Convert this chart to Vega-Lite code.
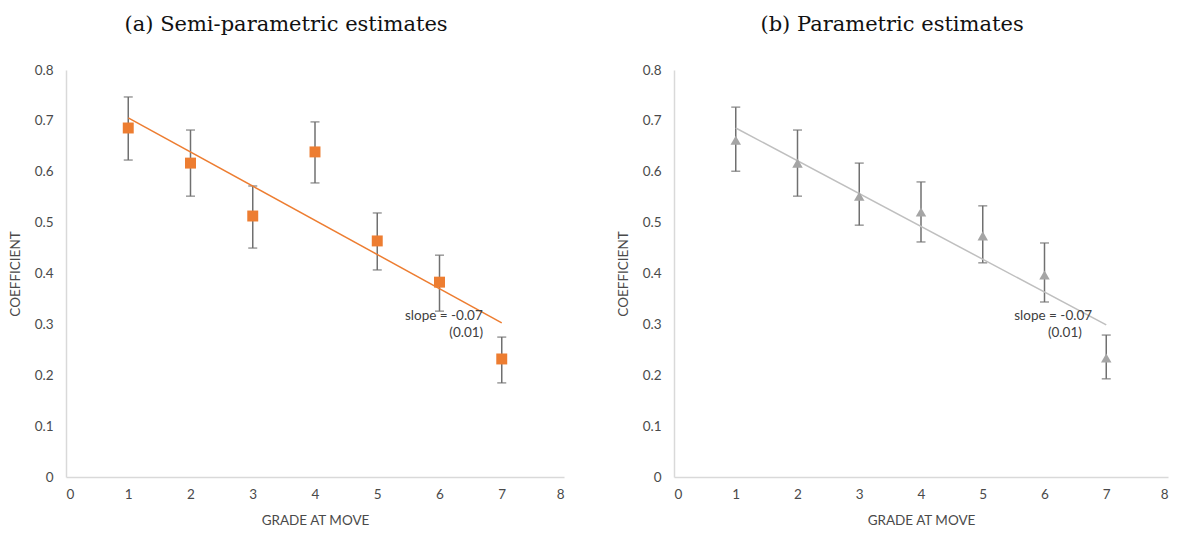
{
  "$schema": "https://vega.github.io/schema/vega-lite/v6.json",
  "background": "white",
  "padding": {"left": 8, "top": 14, "right": 6, "bottom": 6},
  "spacing": 52,
  "config": {
    "view": {"stroke": null},
    "axis": {
      "grid": false, "ticks": false, "domainColor": "#d9d9d9", "domainWidth": 1.5,
      "labelColor": "#4a4a4a", "labelFont": "Lato", "labelFontSize": 13.5,
      "titleColor": "#4a4a4a", "titleFont": "Lato", "titleFontSize": 13.5, "titleFontWeight": "normal"
    },
    "title": {"font": "DejaVu Serif", "fontSize": 21, "fontWeight": "normal", "color": "#111111", "anchor": "middle", "frame": "bounds", "offset": 28}
  },
  "datasets": {
    "semi": [
      {"grade": 1, "coef": 0.686, "lo": 0.623, "hi": 0.747},
      {"grade": 2, "coef": 0.617, "lo": 0.552, "hi": 0.682},
      {"grade": 3, "coef": 0.513, "lo": 0.450, "hi": 0.572},
      {"grade": 4, "coef": 0.639, "lo": 0.578, "hi": 0.698},
      {"grade": 5, "coef": 0.464, "lo": 0.407, "hi": 0.519},
      {"grade": 6, "coef": 0.383, "lo": 0.326, "hi": 0.436},
      {"grade": 7, "coef": 0.232, "lo": 0.185, "hi": 0.275}
    ],
    "para": [
      {"grade": 1, "coef": 0.662, "lo": 0.601, "hi": 0.727},
      {"grade": 2, "coef": 0.617, "lo": 0.552, "hi": 0.682},
      {"grade": 3, "coef": 0.552, "lo": 0.495, "hi": 0.617},
      {"grade": 4, "coef": 0.521, "lo": 0.462, "hi": 0.580},
      {"grade": 5, "coef": 0.474, "lo": 0.421, "hi": 0.533},
      {"grade": 6, "coef": 0.397, "lo": 0.344, "hi": 0.460},
      {"grade": 7, "coef": 0.234, "lo": 0.193, "hi": 0.279}
    ],
    "semiTrend": [{"grade": 1, "fit": 0.706}, {"grade": 7, "fit": 0.303}],
    "paraTrend": [{"grade": 1, "fit": 0.686}, {"grade": 7, "fit": 0.299}],
    "semiNote": [{"grade": 6.07, "y": 0.316, "label": "slope = -0.07"}, {"grade": 6.43, "y": 0.283, "label": "(0.01)"}],
    "paraNote": [{"grade": 6.14, "y": 0.316, "label": "slope = -0.07"}, {"grade": 6.33, "y": 0.283, "label": "(0.01)"}]
  },
  "hconcat": [
    {
      "title": "(a) Semi-parametric estimates",
      "width": 498, "height": 407,
      "encoding": {
        "x": {"field": "grade", "type": "quantitative", "scale": {"domain": [0, 8], "nice": false},
              "axis": {"title": "GRADE AT MOVE", "values": [0,1,2,3,4,5,6,7,8], "labelPadding": 10, "titlePadding": 13}}
      },
      "layer": [
        {"data": {"name": "semi"}, "mark": {"type": "rule", "color": "#707070", "strokeWidth": 1.5},
         "encoding": {"y": {"field": "lo", "type": "quantitative", "scale": {"domain": [0, 0.8], "nice": false},
            "axis": {"title": "COEFFICIENT", "values": [0,0.1,0.2,0.3,0.4,0.5,0.6,0.7,0.8], "format": "~g", "labelPadding": 13, "titlePadding": 12}},
           "y2": {"field": "hi"}}},
        {"data": {"name": "semi"}, "mark": {"type": "tick", "orient": "horizontal", "color": "#707070", "size": 9, "thickness": 1.5},
         "encoding": {"y": {"field": "lo", "type": "quantitative"}}},
        {"data": {"name": "semi"}, "mark": {"type": "tick", "orient": "horizontal", "color": "#707070", "size": 9, "thickness": 1.5},
         "encoding": {"y": {"field": "hi", "type": "quantitative"}}},
        {"data": {"name": "semiTrend"}, "mark": {"type": "line", "color": "#ED7D31", "strokeWidth": 1.5},
         "encoding": {"y": {"field": "fit", "type": "quantitative"}}},
        {"data": {"name": "semi"}, "mark": {"type": "point", "shape": "square", "filled": true, "opacity": 1, "color": "#ED7D31", "size": 120},
         "encoding": {"y": {"field": "coef", "type": "quantitative"}}},
        {"data": {"name": "semiNote"}, "mark": {"type": "text", "font": "Lato", "fontSize": 13.5, "color": "#404040"},
         "encoding": {"y": {"field": "y", "type": "quantitative"}, "text": {"field": "label"}}}
      ]
    },
    {
      "title": "(b) Parametric estimates",
      "width": 494, "height": 407,
      "encoding": {
        "x": {"field": "grade", "type": "quantitative", "scale": {"domain": [0, 8], "nice": false},
              "axis": {"title": "GRADE AT MOVE", "values": [0,1,2,3,4,5,6,7,8], "labelPadding": 10, "titlePadding": 13}}
      },
      "layer": [
        {"data": {"name": "para"}, "mark": {"type": "rule", "color": "#707070", "strokeWidth": 1.5},
         "encoding": {"y": {"field": "lo", "type": "quantitative", "scale": {"domain": [0, 0.8], "nice": false},
            "axis": {"title": "COEFFICIENT", "values": [0,0.1,0.2,0.3,0.4,0.5,0.6,0.7,0.8], "format": "~g", "labelPadding": 13, "titlePadding": 12}},
           "y2": {"field": "hi"}}},
        {"data": {"name": "para"}, "mark": {"type": "tick", "orient": "horizontal", "color": "#707070", "size": 9, "thickness": 1.5},
         "encoding": {"y": {"field": "lo", "type": "quantitative"}}},
        {"data": {"name": "para"}, "mark": {"type": "tick", "orient": "horizontal", "color": "#707070", "size": 9, "thickness": 1.5},
         "encoding": {"y": {"field": "hi", "type": "quantitative"}}},
        {"data": {"name": "paraTrend"}, "mark": {"type": "line", "color": "#BFBFBF", "strokeWidth": 1.5},
         "encoding": {"y": {"field": "fit", "type": "quantitative"}}},
        {"data": {"name": "para"}, "mark": {"type": "point", "shape": "triangle-up", "filled": true, "opacity": 1, "color": "#A5A5A5", "size": 110},
         "encoding": {"y": {"field": "coef", "type": "quantitative"}}},
        {"data": {"name": "paraNote"}, "mark": {"type": "text", "font": "Lato", "fontSize": 13.5, "color": "#404040"},
         "encoding": {"y": {"field": "y", "type": "quantitative"}, "text": {"field": "label"}}}
      ]
    }
  ]
}
